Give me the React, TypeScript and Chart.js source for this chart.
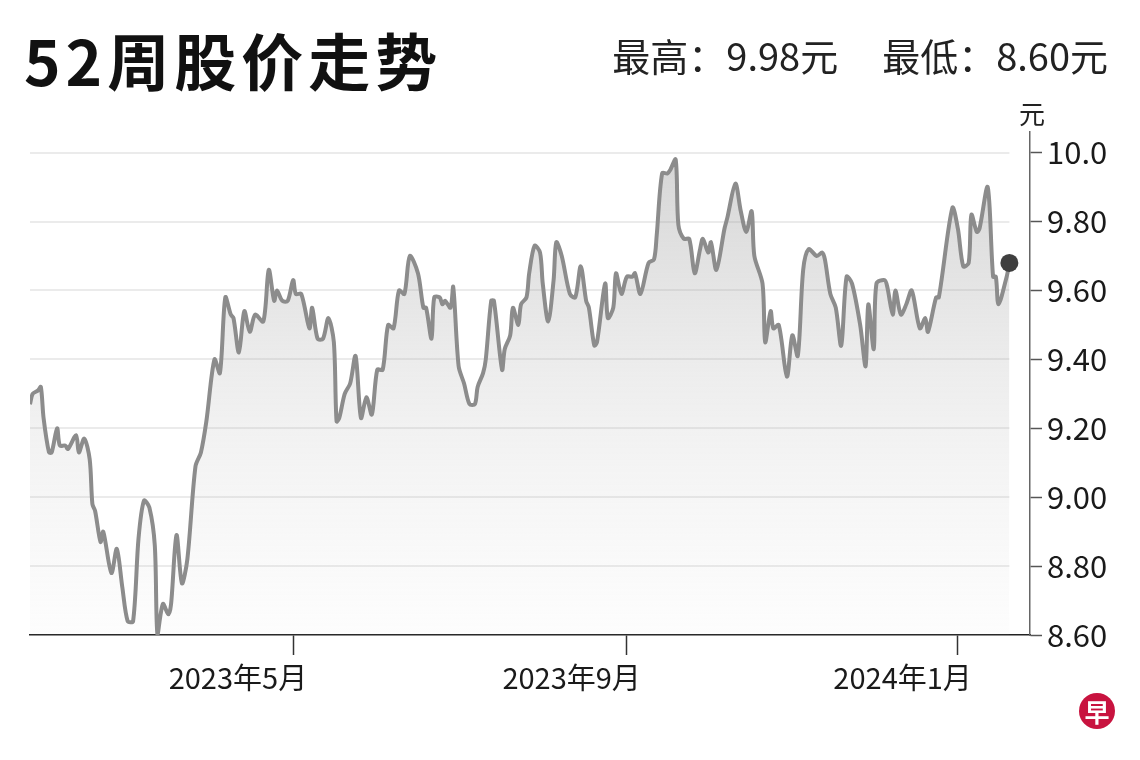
import React, { useEffect, useRef } from 'react';
import { Chart, registerables } from 'chart.js';

Chart.register(...registerables);

// Day offsets counted from 2023-01-01 (trading days)
const dayOffsets = [
  23, 24, 26, 27, 28, 30, 31, 33, 34, 36, 37, 40, 41, 43, 45, 46, 47, 49, 50, 53,
  55, 57, 59, 61, 63, 65, 67, 69, 70, 72, 74, 75, 77, 79, 81, 84, 86, 88, 91, 93,
  95, 97, 98, 100, 102, 104, 106, 109, 111, 113, 114, 116, 118, 120, 121, 123, 126, 127, 129, 131,
  133, 135, 136, 137, 139, 141, 143, 145, 147, 149, 151, 153, 155, 157, 159, 161, 163, 166, 168, 169,
  171, 172, 174, 175, 176, 178, 179, 181, 183, 185, 187, 188, 190, 191, 193, 194, 197, 198, 200, 201,
  203, 204, 206, 207, 209, 211, 212, 214, 216, 217, 219, 222, 224, 226, 228, 229, 231, 232, 235, 236,
  238, 239, 241, 243, 245, 246, 248, 251, 253, 254, 256, 258, 259, 261, 262, 264, 266, 268, 270, 271,
  273, 274, 276, 279, 280, 283, 285, 287, 289, 290, 293, 294, 296, 297, 299, 302, 304, 306, 308, 310,
  313, 315, 316, 318, 320, 322, 324, 326, 329, 331, 332, 334, 335, 338, 339, 341, 342, 344, 346, 348,
  351, 353, 354, 357, 358, 363, 365, 367, 369, 370, 372, 373, 376, 378, 379, 380, 383, 384,
];

const prices = [
  9.27, 9.30, 9.31, 9.32, 9.23, 9.13, 9.13, 9.20, 9.15, 9.15, 9.14, 9.18, 9.13, 9.17, 9.11, 8.98, 8.96, 8.87, 8.90, 8.78,
  8.85, 8.74, 8.64, 8.64, 8.88, 8.99, 8.97, 8.86, 8.60, 8.69, 8.66, 8.69, 8.89, 8.75, 8.82, 9.09, 9.13, 9.22, 9.40, 9.36,
  9.58, 9.53, 9.52, 9.42, 9.54, 9.48, 9.53, 9.51, 9.66, 9.57, 9.60, 9.57, 9.57, 9.63, 9.59, 9.59, 9.49, 9.55, 9.46, 9.46,
  9.52, 9.45, 9.22, 9.23, 9.30, 9.33, 9.41, 9.23, 9.29, 9.24, 9.37, 9.37, 9.50, 9.49, 9.60, 9.59, 9.70, 9.65, 9.55, 9.55,
  9.46, 9.58, 9.58, 9.56, 9.57, 9.55, 9.61, 9.38, 9.33, 9.27, 9.27, 9.32, 9.36, 9.40, 9.57, 9.57, 9.37, 9.43, 9.47, 9.55,
  9.50, 9.56, 9.58, 9.65, 9.73, 9.71, 9.62, 9.51, 9.63, 9.74, 9.70, 9.59, 9.58, 9.67, 9.57, 9.55, 9.44, 9.45, 9.62, 9.52,
  9.55, 9.65, 9.59, 9.64, 9.64, 9.65, 9.59, 9.68, 9.69, 9.76, 9.94, 9.94, 9.95, 9.98, 9.79, 9.75, 9.75, 9.65, 9.72, 9.75,
  9.71, 9.74, 9.66, 9.78, 9.81, 9.91, 9.83, 9.77, 9.83, 9.70, 9.62, 9.45, 9.54, 9.49, 9.50, 9.35, 9.47, 9.41, 9.66, 9.72,
  9.70, 9.71, 9.69, 9.59, 9.55, 9.44, 9.64, 9.62, 9.50, 9.38, 9.56, 9.43, 9.62, 9.63, 9.61, 9.53, 9.60, 9.53, 9.56, 9.60,
  9.49, 9.52, 9.48, 9.58, 9.58, 9.84, 9.78, 9.67, 9.68, 9.82, 9.77, 9.78, 9.90, 9.64, 9.64, 9.56, 9.64, 9.68,
];

const xTickDays = [120, 243, 365];
const xTickLabels = ['2023年5月', '2023年9月', '2024年1月'];
const yTickValues = [8.6, 8.8, 9.0, 9.2, 9.4, 9.6, 9.8, 10.0];
const yTickLabels = ['8.60', '8.80', '9.00', '9.20', '9.40', '9.60', '9.80', '10.0'];

const titleText = '52周股价走势';
const highText = '最高：9.98元';
const lowText = '最低：8.60元';
const unitText = '元';
const logoText = '早';

const xMin = 23;
const xMax = 391.6;
const yMin = 8.6;
const yMax = 10.06;

const CJK = '"Noto Sans CJK SC", "Noto Sans", sans-serif';

export default function App() {
  const canvasRef = useRef<HTMLCanvasElement | null>(null);

  useEffect(() => {
    const canvas = canvasRef.current;
    if (!canvas) return;

    const gridPlugin = {
      id: 'partialGrid',
      beforeDatasetsDraw(chart: any) {
        const { ctx, chartArea, scales } = chart;
        const xs = scales.x;
        const ys = scales.y;
        const xEnd = xs.getPixelForValue(dayOffsets[dayOffsets.length - 1]);
        ctx.save();
        ctx.strokeStyle = '#ebebeb';
        ctx.lineWidth = 2;
        yTickValues.forEach((v) => {
          if (v === yMin) return;
          const y = Math.round(ys.getPixelForValue(v));
          ctx.beginPath();
          ctx.moveTo(chartArea.left, y);
          ctx.lineTo(xEnd, y);
          ctx.stroke();
        });
        ctx.restore();
      },
    };

    const chart = new Chart(canvas, {
      type: 'line',
      data: {
        datasets: [
          {
            data: dayOffsets.map((d, i) => ({ x: d, y: prices[i] })),
            borderColor: '#8c8c8c',
            borderWidth: 4,
            tension: 0.3,
            fill: 'start',
            backgroundColor: (c: any) => {
              const area = c.chart.chartArea;
              if (!area) return 'rgba(160,160,160,0.2)';
              const g = c.chart.ctx.createLinearGradient(0, area.top, 0, area.bottom);
              g.addColorStop(0, 'rgba(150,150,150,0.42)');
              g.addColorStop(0.5, 'rgba(170,170,170,0.2)');
              g.addColorStop(1, 'rgba(200,200,200,0.04)');
              return g;
            },
            pointRadius: (c: any) => (c.dataIndex === prices.length - 1 ? 9 : 0),
            pointHoverRadius: (c: any) => (c.dataIndex === prices.length - 1 ? 9 : 0),
            pointBackgroundColor: '#3f3f3f',
            pointBorderWidth: 0,
          },
        ],
      },
      options: {
        animation: false,
        responsive: false,
        devicePixelRatio: 1,
        events: [],
        layout: { padding: { left: 30, top: 132, right: 0, bottom: 0 } },
        plugins: {
          legend: { display: false },
          tooltip: { enabled: false },
        },
        scales: {
          x: {
            type: 'linear',
            min: xMin,
            max: xMax,
            afterBuildTicks: (s: any) => {
              s.ticks = xTickDays.map((v) => ({ value: v }));
            },
            afterFit: (s: any) => {
              s.height = 125;
            },
            ticks: {
              callback: (v: any) => {
                const i = xTickDays.indexOf(Number(v));
                return i >= 0 ? xTickLabels[i] : '';
              },
              align: 'end',
              labelOffset: 14,
              padding: 6,
              autoSkip: false,
              maxRotation: 0,
              color: '#1a1a1a',
              font: { family: CJK, size: 29 },
            },
            grid: {
              drawOnChartArea: false,
              drawTicks: true,
              tickLength: 20,
              tickColor: '#333',
              tickWidth: 1.5,
            },
            border: { display: true, color: '#222', width: 1.5 },
          },
          y: {
            type: 'linear',
            position: 'right',
            min: yMin,
            max: yMax,
            afterBuildTicks: (s: any) => {
              s.ticks = yTickValues.map((v) => ({ value: v }));
            },
            afterFit: (s: any) => {
              s.width = 110;
            },
            ticks: {
              callback: (_v: any, i: number) => yTickLabels[i],
              padding: 5,
              color: '#1a1a1a',
              font: { family: CJK, size: 31 },
            },
            grid: {
              drawOnChartArea: false,
              drawTicks: true,
              tickLength: 12,
              tickColor: '#555',
              tickWidth: 1.5,
            },
            border: { display: true, color: '#666', width: 1.5 },
          },
        },
      } as any,
      plugins: [gridPlugin],
    });

    return () => chart.destroy();
  }, []);

  return (
    <div
      style={{
        position: 'absolute',
        left: 0,
        top: 0,
        width: 1140,
        height: 760,
        background: '#fff',
        overflow: 'hidden',
        fontFamily: CJK,
      }}
    >
      <canvas
        ref={canvasRef}
        width={1140}
        height={760}
        style={{ position: 'absolute', left: 0, top: 0, width: 1140, height: 760 }}
      />
      <div
        style={{
          position: 'absolute',
          left: 24,
          top: 28,
          fontSize: 62,
          fontWeight: 700,
          lineHeight: 1,
          letterSpacing: 5,
          color: '#111',
          whiteSpace: 'nowrap',
        }}
      >
        {titleText}
      </div>
      <div
        style={{
          position: 'absolute',
          right: 32,
          top: 36,
          fontSize: 38,
          lineHeight: 1,
          color: '#222',
          whiteSpace: 'nowrap',
        }}
      >
        <span>{highText}</span>
        <span style={{ marginLeft: 44 }}>{lowText}</span>
      </div>
      <div
        style={{
          position: 'absolute',
          left: 1019,
          top: 100,
          fontSize: 26,
          lineHeight: 1,
          color: '#222',
        }}
      >
        {unitText}
      </div>
      <div
        style={{
          position: 'absolute',
          left: 1079,
          top: 693,
          width: 36,
          height: 36,
          borderRadius: '50%',
          background: '#c8133f',
          color: '#fff',
          fontSize: 25,
          fontWeight: 700,
          lineHeight: '36px',
          textAlign: 'center',
        }}
      >
        {logoText}
      </div>
    </div>
  );
}
